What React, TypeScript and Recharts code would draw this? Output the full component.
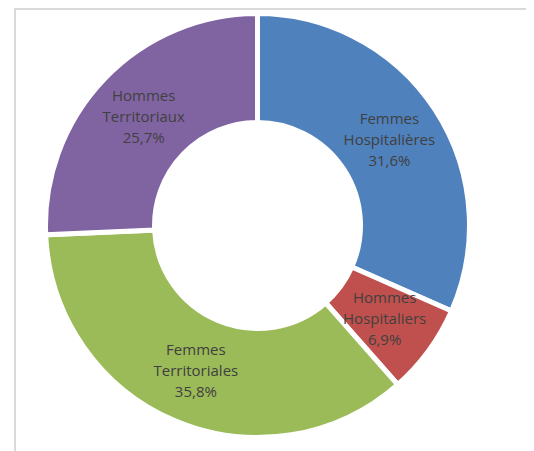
import React from 'react';
import { PieChart, Pie, Cell } from 'recharts';

const groupLines = [
  ['Femmes', 'Hospitalières'],
  ['Hommes', 'Hospitaliers'],
  ['Femmes', 'Territoriales'],
  ['Hommes', 'Territoriaux'],
];
const shares = [31.6, 6.9, 35.8, 25.7];
const sliceColors = ['#4F81BD', '#C0504D', '#9BBB59', '#8064A2'];

const data = shares.map((v, i) => ({ name: groupLines[i].join(' '), value: v, lines: groupLines[i] }));

const RAD = Math.PI / 180;

const renderLabel = (props: any) => {
  const { cx, cy, midAngle, innerRadius, outerRadius, payload, index } = props;
  const r = (innerRadius + outerRadius) / 2;
  const x = cx + r * Math.cos(-midAngle * RAD);
  const y = cy + r * Math.sin(-midAngle * RAD);
  const lines: string[] = payload.lines || groupLines[index];
  const pct = String(shares[index]).replace('.', ',') + '%';
  const all = [...lines, pct];
  return (
    <text x={x} y={y} textAnchor="middle" fill="#404040" fontSize={15} fontFamily="'Open Sans', 'Liberation Sans', sans-serif">
      {all.map((t, i) => (
        <tspan key={i} x={x} y={y + (i - 1) * 21} dy="0.35em">{t}</tspan>
      ))}
    </text>
  );
};

export default function App() {
  return (
    <div style={{ marginLeft: 6, width: 516, height: 450, border: '2px solid #d9d9d9', boxSizing: 'border-box', background: '#fff' }}>
      <PieChart width={512} height={446}>
        <Pie
          data={data}
          dataKey="value"
          nameKey="name"
          cx={236.5}
          cy={210.5}
          innerRadius={103}
          outerRadius={212}
          startAngle={90}
          endAngle={-270}
          stroke="#ffffff"
          strokeWidth={5}
          labelLine={false}
          label={renderLabel}
          isAnimationActive={false}
        >
          {data.map((_, i) => (
            <Cell key={i} fill={sliceColors[i]} stroke="#ffffff" strokeWidth={5} />
          ))}
        </Pie>
      </PieChart>
    </div>
  );
}
